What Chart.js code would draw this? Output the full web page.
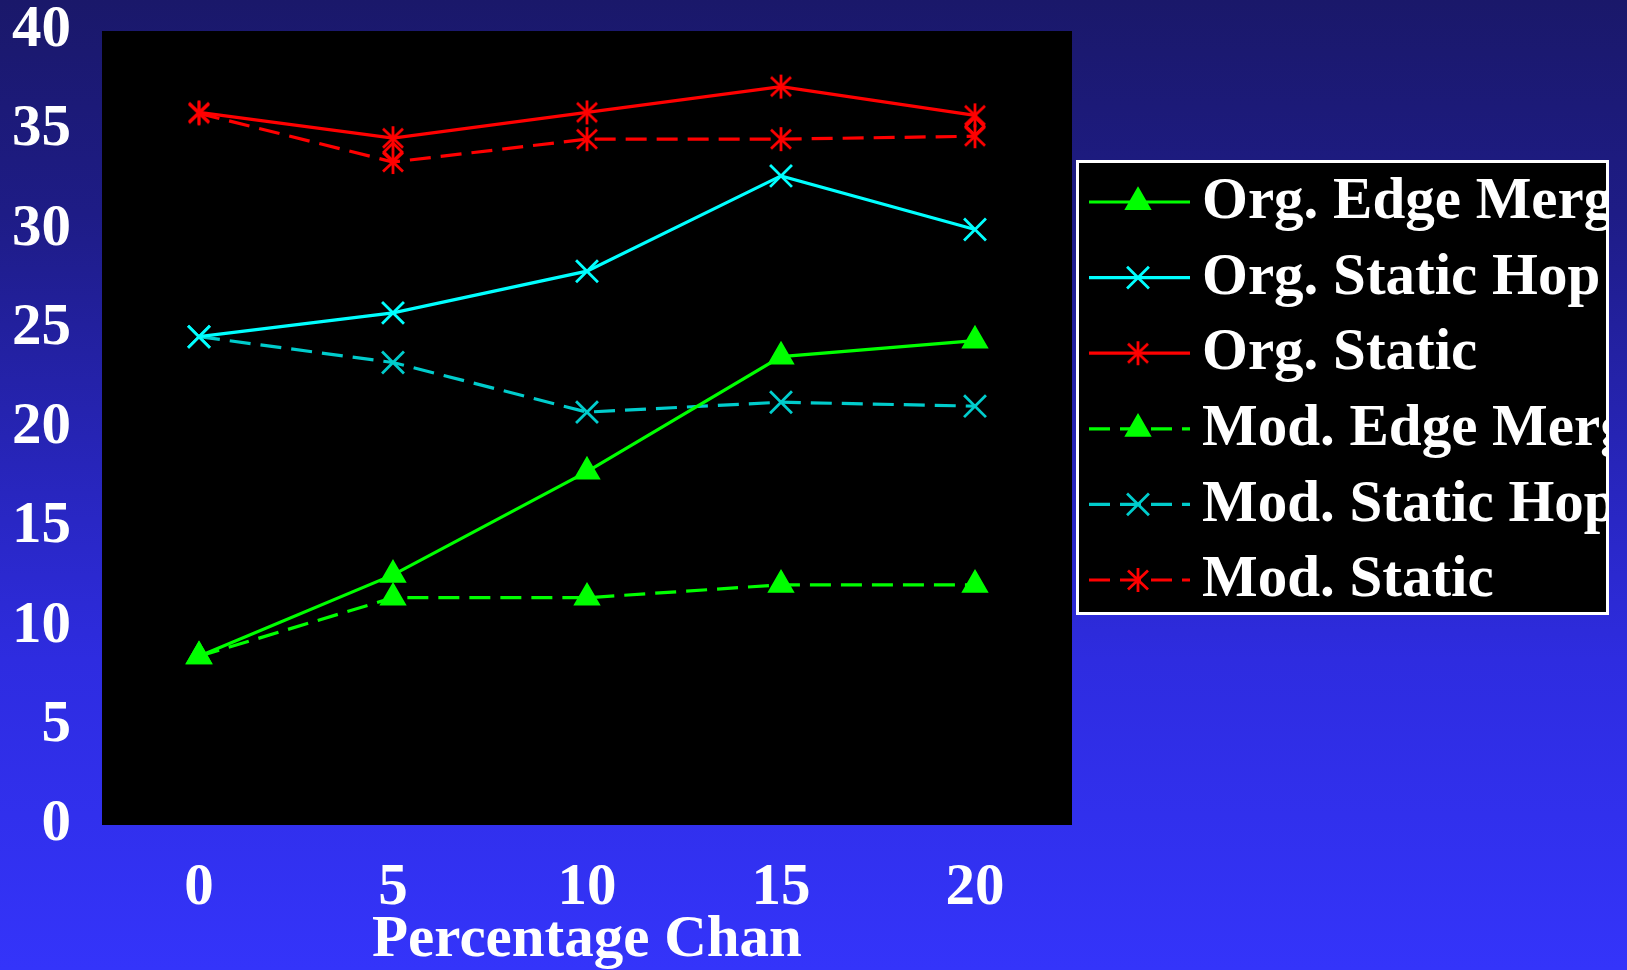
<!DOCTYPE html>
<html>
<head>
<meta charset="utf-8">
<script src="https://cdn.jsdelivr.net/npm/chart.js@4.4.0/dist/chart.umd.min.js"></script>
<style>
  html, body { margin: 0; padding: 0; overflow: hidden; }
  body {
    width: 1627px; height: 970px;
    background: linear-gradient(to bottom, #1a186a 0%, #1e1c86 22%, #2624b4 45%, #2e2ce0 68%, #3434fa 100%);
  }
</style>
</head>
<body>
<canvas id="canvas1" width="1627" height="970"></canvas>
<script>
// ---- data ----
var xLabels = ['0', '5', '10', '15', '20'];
var seriesNames = ['Org. Edge Merge', 'Org. Static Hop', 'Org. Static', 'Mod. Edge Merge', 'Mod. Static Hop', 'Mod. Static'];
var orgEdgeMerge  = [8.5, 12.6, 17.8, 23.6, 24.4];
var orgStaticHop  = [24.6, 25.8, 27.9, 32.7, 30.0];
var orgStatic     = [35.9, 34.6, 35.9, 37.2, 35.75];
var modEdgeMerge  = [8.5, 11.45, 11.45, 12.1, 12.1];
var modStaticHop  = [24.6, 23.3, 20.8, 21.3, 21.1];
var modStatic     = [35.85, 33.4, 34.55, 34.55, 34.7];
var diamondMarks  = [null, 33.9, null, null, 35.2];
var yMin = 0, yMax = 40, yStep = 5;
var xTitle = 'Percentage Chan';

var FONT = "'Liberation Serif', 'Times New Roman', serif";

// six-armed asterisk marker (vertical bar + X)
function makeAsterisk(color) {
  var c = document.createElement('canvas');
  c.width = 28; c.height = 28;
  var g = c.getContext('2d');
  g.strokeStyle = color;
  g.lineWidth = 2.8;
  g.lineCap = 'butt';
  g.beginPath();
  g.moveTo(14, 2); g.lineTo(14, 26);
  g.moveTo(4, 4.5); g.lineTo(24, 23.5);
  g.moveTo(24, 4.5); g.lineTo(4, 23.5);
  g.stroke();
  return c;
}
var redStar = makeAsterisk('#ff0000');

function series(label, data, color, style, dashed, radius) {
  return {
    label: label,
    data: data,
    borderColor: color,
    backgroundColor: color,
    borderWidth: 3.2,
    borderDash: dashed ? [21, 10] : [],
    pointStyle: style,
    pointRadius: radius,
    pointBorderWidth: 2.8,
    pointBackgroundColor: color,
    pointBorderColor: color,
    tension: 0,
    fill: false
  };
}

var datasets = [
  series(seriesNames[0], orgEdgeMerge, '#00ff00', 'triangle', false, 13),
  series(seriesNames[1], orgStaticHop, '#00ffff', 'crossRot', false, 15.5),
  series(seriesNames[2], orgStatic, '#ff0000', redStar, false, 12),
  series(seriesNames[3], modEdgeMerge, '#00ff00', 'triangle', true, 13),
  series(seriesNames[4], modStaticHop, '#00cccc', 'crossRot', true, 15.5),
  series(seriesNames[5], modStatic, '#ff0000', redStar, true, 12),
  {
    label: '',
    data: diamondMarks,
    showLine: false,
    pointStyle: 'rectRot',
    pointRadius: 9,
    pointBorderWidth: 2.8,
    pointBorderColor: '#ff0000',
    pointBackgroundColor: 'rgba(0,0,0,0)',
    inLegend: false
  }
];

// black plotting area
var plotBg = {
  id: 'plotBg',
  beforeDraw: function(chart) {
    var a = chart.chartArea, ctx = chart.ctx;
    ctx.save();
    ctx.fillStyle = '#000000';
    ctx.fillRect(a.left, a.top, a.right - a.left, a.bottom - a.top);
    ctx.restore();
  }
};

// boxed legend to the right, text clipped at the box edge
var boxLegend = {
  id: 'boxLegend',
  afterDraw: function(chart) {
    var ctx = chart.ctx;
    var bx = 1076, by = 160, bw = 533, bh = 455;
    ctx.save();
    ctx.fillStyle = '#000000';
    ctx.fillRect(bx, by, bw, bh);
    ctx.strokeStyle = '#ffffff';
    ctx.lineWidth = 3;
    ctx.strokeRect(bx + 1.5, by + 1.5, bw - 3, bh - 3);
    ctx.beginPath();
    ctx.rect(bx + 3, by + 3, bw - 6, bh - 6);
    ctx.clip();

    var rowY = 202, rowStep = 75.6;
    var x0 = 1089, x1 = 1190, xm = 1138, tx = 1202;
    chart.data.datasets.forEach(function(ds, i) {
      if (ds.inLegend === false) return;
      var y = rowY + i * rowStep;
      ctx.save();
      ctx.strokeStyle = ds.borderColor;
      ctx.lineWidth = ds.borderWidth;
      ctx.setLineDash(ds.borderDash || []);
      ctx.beginPath();
      ctx.moveTo(x0, y); ctx.lineTo(x1, y);
      ctx.stroke();
      ctx.setLineDash([]);
      ctx.fillStyle = ds.pointBackgroundColor;
      ctx.strokeStyle = ds.pointBorderColor;
      ctx.lineWidth = ds.pointBorderWidth;
      Chart.helpers.drawPoint(ctx, {
        pointStyle: ds.pointStyle,
        radius: ds.pointRadius,
        rotation: 0,
        borderWidth: ds.pointBorderWidth
      }, xm, y);
      ctx.restore();

      ctx.fillStyle = '#ffffff';
      ctx.font = 'bold 59px ' + FONT;
      ctx.textBaseline = 'middle';
      ctx.textAlign = 'left';
      ctx.fillText(ds.label, tx, y + 1);
    });
    ctx.restore();
  }
};

try {
  new Chart(document.getElementById('canvas1'), {
    type: 'line',
    data: { labels: xLabels, datasets: datasets },
    options: {
      responsive: false,
      animation: false,
      layout: { padding: { top: 31, right: 555, left: 0, bottom: 0 } },
      plugins: { legend: { display: false }, tooltip: { enabled: false } },
      scales: {
        x: {
          type: 'category',
          offset: true,
          grid: { display: false, drawTicks: false },
          border: { display: false },
          ticks: {
            color: '#ffffff',
            padding: 34,
            maxRotation: 0,
            font: { family: FONT, size: 59, weight: 'bold', lineHeight: 1 }
          },
          title: {
            display: true,
            text: xTitle,
            color: '#ffffff',
            padding: { top: 0, bottom: 0 },
            font: { family: FONT, size: 59, weight: 'bold', lineHeight: 1 }
          },
          afterFit: function(scale) {
            scale.height = 145;
            scale.paddingLeft = 0; scale.paddingRight = 0;
          }
        },
        y: {
          min: yMin,
          max: yMax,
          grid: { display: false, drawTicks: false },
          border: { display: false },
          ticks: {
            stepSize: yStep,
            color: '#ffffff',
            padding: 31,
            font: { family: FONT, size: 59, weight: 'bold', lineHeight: 1 }
          },
          afterFit: function(scale) {
            scale.width = 102;
            scale.paddingTop = 0; scale.paddingBottom = 0;
          }
        }
      }
    },
    plugins: [plotBg, boxLegend]
  });
} catch (err) {
  console.log(err);
}
</script>
</body>
</html>
